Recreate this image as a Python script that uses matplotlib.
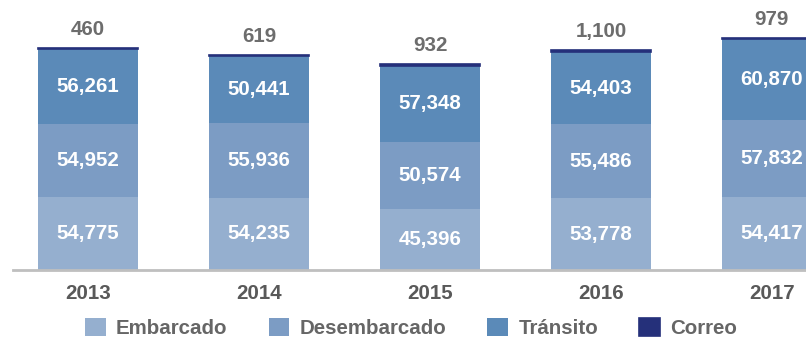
import matplotlib.pyplot as plt
import numpy as np

# Movimiento por año (toneladas)
years = ["2013", "2014", "2015", "2016", "2017"]
embarcado = [54775, 54235, 45396, 53778, 54417]
desembarcado = [54952, 55936, 50574, 55486, 57832]
transito = [56261, 50441, 57348, 54403, 60870]
correo = [460, 619, 932, 1100, 979]

plt.rcParams['font.family'] = ['Liberation Sans', 'DejaVu Sans']
plt.rcParams['font.weight'] = 'bold'

colors = ["#95AFCF", "#7C9CC4", "#5B8AB8", "#25307A"]
names = ["Embarcado", "Desembarcado", "Tránsito", "Correo"]
fs = 14.8

fig = plt.figure(figsize=(8.06, 3.42), dpi=100)
ax = fig.add_axes([13 / 806, 72 / 342, 793 / 806, 270 / 342])

x = np.arange(len(years))
w = 0.585
series = [embarcado, desembarcado, transito, correo]
bottom = np.zeros(len(years))
for i, (vals, c) in enumerate(zip(series, colors)):
    vals = np.array(vals, dtype=float)
    if i == 3:
        ax.bar(x, vals, w, bottom=bottom, color=c, edgecolor=c, linewidth=1.2, label=names[i])
        for xi, b, v in zip(x, bottom, vals):
            ax.text(xi, b + v + 14000, f"{int(v):,}", ha='center', va='center',
                    color='#6D6D6D', fontsize=fs, fontweight='bold')
    else:
        ax.bar(x, vals, w, bottom=bottom, color=c, linewidth=0, label=names[i])
        for xi, b, v in zip(x, bottom, vals):
            ax.text(xi, b + v / 2, f"{int(v):,}", ha='center', va='center',
                    color='white', fontsize=fs, fontweight='bold')
    bottom += vals

ax.set_xlim(-0.44, 4.2)
ax.set_ylim(0, 202500)
for s in ['top', 'right', 'left']:
    ax.spines[s].set_visible(False)
ax.spines['bottom'].set_color('#BFBFBF')
ax.spines['bottom'].set_linewidth(2)
ax.set_yticks([])
ax.set_xticks(x)
ax.set_xticklabels(years, fontsize=fs, fontweight='bold', color='#595959')
ax.tick_params(axis='x', length=0, pad=10)

handles, labels = ax.get_legend_handles_labels()
leg = fig.legend(handles, labels, loc='center', bbox_to_anchor=(0.51, 1 - 328 / 342), ncol=4,
                 frameon=False, handlelength=1.0, handleheight=1.0, handletextpad=0.5,
                 columnspacing=2.0, prop={'size': fs, 'weight': 'bold'})
for t in leg.get_texts():
    t.set_color('#666666')

fig.savefig("out.png", dpi=100)
